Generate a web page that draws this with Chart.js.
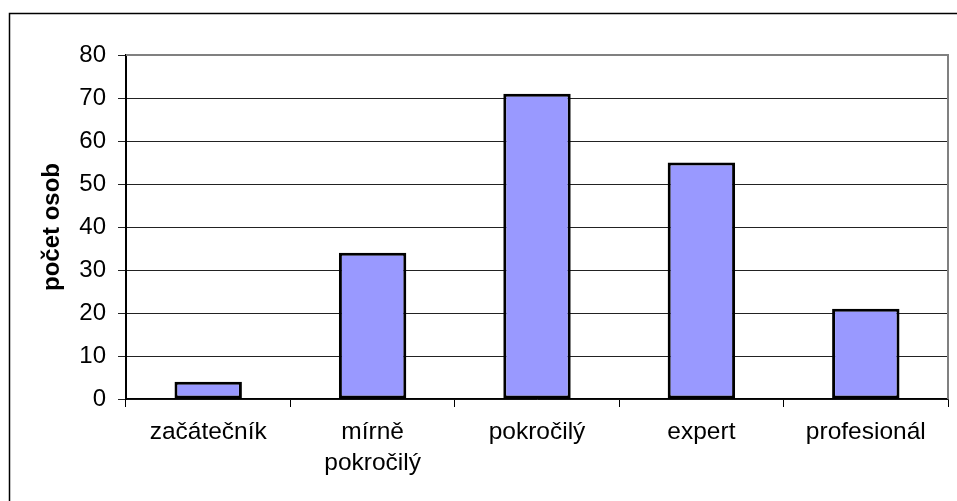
<!DOCTYPE html>
<html>
<head>
<meta charset="utf-8">
<script src="https://cdn.jsdelivr.net/npm/chart.js@4"></script>
<style>
  html, body { margin: 0; padding: 0; background: #fff; overflow: hidden; }
  #wrap { width: 957px; height: 501px; position: relative; }
</style>
</head>
<body>
<div id="wrap"><canvas id="chart" width="957" height="501"></canvas></div>
<script>
const categories = ['začátečník', ['mírně', 'pokročilý'], 'pokročilý', 'expert', 'profesionál'];
const counts = [4, 34, 71, 55, 21];
const yTitle = 'počet osob';

const FONT = '"Liberation Sans", Arial, sans-serif';

// white background, frame round the picture and the grey plot border
const decor = {
    id: 'decor',
    beforeDraw(chart) {
        const ctx = chart.ctx;
        ctx.save();
        ctx.fillStyle = '#fff';
        ctx.fillRect(0, 0, chart.width, chart.height);
        ctx.restore();
    },
    afterDraw(chart) {
        const ctx = chart.ctx;
        const a = chart.chartArea;
        ctx.save();
        ctx.strokeStyle = '#000';
        ctx.lineWidth = 1.5;
        ctx.strokeRect(9.5, 13.5, 1000, 600);

        ctx.strokeStyle = '#808080';
        ctx.lineWidth = 2;
        ctx.beginPath();
        ctx.moveTo(a.left, a.top);
        ctx.lineTo(a.right, a.top);
        ctx.lineTo(a.right, a.bottom);
        ctx.stroke();
        ctx.restore();
    }
};

new Chart(document.getElementById('chart'), {
    type: 'bar',
    data: {
        labels: categories,
        datasets: [{
            data: counts,
            backgroundColor: '#9999FF',
            borderColor: '#000',
            borderWidth: 3,
            borderSkipped: false,
            categoryPercentage: 1,
            barPercentage: 0.41
        }]
    },
    options: {
        responsive: false,
        animation: false,
        layout: { padding: { top: 55, right: 9, left: 0, bottom: 0 } },
        plugins: {
            legend: { display: false },
            tooltip: { enabled: false }
        },
        scales: {
            x: {
                afterFit: (s) => { s.height = 102; },
                grid: {
                    offset: true,
                    drawOnChartArea: false,
                    drawTicks: true,
                    tickLength: 8,
                    color: '#000'
                },
                border: { color: '#000', width: 1.5 },
                ticks: {
                    color: '#000',
                    padding: 10,
                    maxRotation: 0,
                    autoSkip: false,
                    font: { family: FONT, size: 24.5, lineHeight: 1.25 }
                }
            },
            y: {
                min: 0,
                max: 80,
                afterFit: (s) => { s.width = 126; },
                title: {
                    display: true,
                    text: yTitle,
                    color: '#000',
                    padding: { top: 38, bottom: 0 },
                    font: { family: FONT, size: 24, weight: 'bold', lineHeight: 1.2 }
                },
                grid: {
                    color: '#222',
                    lineWidth: 1,
                    tickLength: 8
                },
                border: { color: '#000', width: 2 },
                ticks: {
                    stepSize: 10,
                    color: '#000',
                    padding: 12,
                    font: { family: FONT, size: 24 }
                }
            }
        }
    },
    plugins: [decor]
});
</script>
</body>
</html>
